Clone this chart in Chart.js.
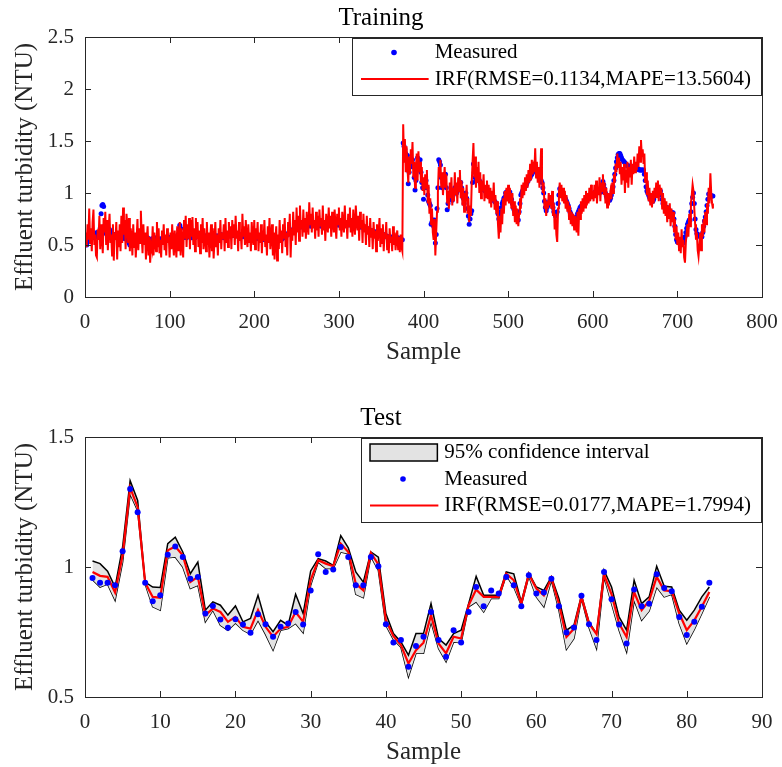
<!DOCTYPE html>
<html>
<head>
<meta charset="utf-8">
<script src="https://cdn.jsdelivr.net/npm/chart.js@4.4.1/dist/chart.umd.min.js"></script>
<style>
  body { margin: 0; background: #fff; overflow: hidden; }
  .wrap { position: absolute; left: 0; width: 782px; }
  #wrapTrain { top: 0; height: 380px; }
  #wrapTest { top: 380px; height: 387px; }
</style>
</head>
<body>
<div class="wrap" id="wrapTrain"><canvas id="trainChart" width="782" height="380"></canvas></div>
<div class="wrap" id="wrapTest"><canvas id="testChart" width="782" height="387"></canvas></div>
<script>
// Training: gemessene Trübung (blaue Punkte), Samples 1..742
const trainMeasured = [
  0.55,0.50,0.53,0.57,0.59,0.58,0.56,0.60,0.61,0.59,0.57,0.58,0.60,0.62,0.60,0.58,0.61,0.66,0.80,0.88,0.89,0.87,0.68,0.63,0.61,
  0.60,0.62,0.64,0.65,0.63,0.61,0.60,0.58,0.59,0.60,0.58,0.57,0.58,0.60,0.59,0.57,0.58,0.60,0.61,0.59,0.58,0.56,0.57,0.58,0.56,
  0.54,0.52,0.50,0.51,0.53,0.55,0.56,0.58,0.57,0.55,0.56,0.57,0.58,0.59,0.58,0.56,0.55,0.57,0.58,0.56,0.55,0.54,0.56,0.57,0.55,
  0.54,0.53,0.55,0.56,0.55,0.54,0.55,0.56,0.57,0.55,0.54,0.53,0.55,0.56,0.55,0.54,0.56,0.57,0.55,0.54,0.55,0.56,0.58,0.57,0.56,
  0.57,0.58,0.57,0.56,0.57,0.58,0.57,0.56,0.58,0.60,0.65,0.69,0.66,0.60,0.58,0.57,0.58,0.59,0.58,0.57,0.58,0.59,0.60,0.59,0.58,
  0.57,0.58,0.59,0.58,0.57,0.58,0.59,0.60,0.59,0.58,0.57,0.58,0.59,0.58,0.57,0.58,0.59,0.58,0.57,0.56,0.57,0.58,0.57,0.56,0.57,
  0.58,0.57,0.56,0.57,0.58,0.59,0.58,0.57,0.58,0.59,0.60,0.59,0.58,0.57,0.58,0.59,0.60,0.61,0.60,0.59,0.60,0.61,0.60,0.59,0.60,
  0.61,0.60,0.59,0.60,0.61,0.60,0.59,0.58,0.59,0.60,0.59,0.58,0.59,0.60,0.59,0.58,0.57,0.58,0.59,0.58,0.57,0.58,0.59,0.58,0.57,
  0.58,0.57,0.56,0.57,0.58,0.57,0.56,0.57,0.58,0.57,0.56,0.55,0.56,0.57,0.56,0.55,0.56,0.57,0.56,0.55,0.56,0.55,0.56,0.57,0.56,
  0.55,0.56,0.55,0.54,0.55,0.56,0.55,0.56,0.57,0.58,0.57,0.58,0.59,0.60,0.61,0.62,0.63,0.64,0.63,0.64,0.65,0.66,0.65,0.66,0.67,
  0.66,0.67,0.68,0.67,0.68,0.69,0.68,0.67,0.68,0.69,0.70,0.69,0.68,0.69,0.70,0.69,0.68,0.69,0.70,0.69,0.70,0.71,0.70,0.69,0.70,
  0.69,0.70,0.69,0.68,0.69,0.70,0.69,0.70,0.69,0.68,0.69,0.70,0.69,0.70,0.71,0.70,0.69,0.70,0.69,0.70,0.69,0.70,0.71,0.70,0.69,
  0.70,0.69,0.70,0.69,0.68,0.69,0.70,0.69,0.70,0.69,0.70,0.71,0.70,0.69,0.70,0.69,0.68,0.69,0.70,0.69,0.70,0.69,0.68,0.69,0.68,
  0.67,0.68,0.69,0.68,0.67,0.66,0.67,0.66,0.65,0.64,0.65,0.64,0.63,0.64,0.63,0.62,0.63,0.62,0.61,0.62,0.61,0.60,0.61,0.60,0.59,
  0.60,0.59,0.60,0.59,0.58,0.59,0.58,0.57,0.58,0.57,0.58,0.57,0.56,0.57,0.56,0.57,0.56,0.55,0.56,0.57,0.56,0.55,0.56,0.55,0.55,
  1.48,1.45,1.42,1.38,1.36,1.36,1.09,1.20,1.25,1.28,1.30,1.32,1.25,1.15,1.03,1.12,1.25,1.34,1.30,1.28,1.32,1.20,1.10,1.05,0.94,
  1.05,1.10,1.12,1.05,0.98,0.92,0.90,0.88,0.70,0.72,0.74,0.68,0.74,0.52,0.60,0.85,1.05,1.32,1.30,1.27,1.15,1.05,1.10,1.15,1.18,
  1.18,1.05,0.84,0.90,0.95,1.00,0.98,0.95,0.93,0.98,1.02,1.05,1.03,1.00,1.02,1.05,1.08,1.10,1.10,1.05,1.00,0.95,0.90,0.95,1.00,
  0.95,0.85,0.78,0.70,0.75,0.80,0.83,1.10,1.28,1.20,1.15,1.12,1.15,1.17,1.17,1.12,1.10,1.08,1.06,1.05,1.03,1.04,1.02,1.01,1.02,
  1.01,1.00,0.99,0.97,0.96,0.95,0.94,0.93,0.92,0.91,0.90,0.85,0.80,0.75,0.78,0.82,0.86,0.90,0.92,0.95,0.96,1.00,1.01,1.00,0.98,
  0.99,1.01,0.98,0.94,0.90,0.86,0.84,0.82,0.80,0.79,0.79,0.74,0.82,0.90,0.98,1.00,1.02,1.04,1.05,1.06,1.07,1.09,1.11,1.13,1.14,
  1.15,1.17,1.18,1.20,1.22,1.24,1.25,1.23,1.20,1.18,1.16,1.14,1.13,1.12,1.10,1.05,1.00,0.92,0.86,0.83,0.86,0.88,0.90,0.92,0.93,
  0.93,0.90,0.86,0.82,0.80,0.78,0.80,0.82,0.90,0.98,1.04,1.03,1.01,0.99,0.98,0.97,0.96,0.94,0.92,0.90,0.88,0.85,0.82,0.80,0.78,
  0.77,0.76,0.76,0.75,0.75,0.77,0.80,0.82,0.84,0.86,0.87,0.88,0.88,0.89,0.90,0.91,0.92,0.93,0.94,0.95,0.96,0.97,0.98,0.98,0.99,
  1.00,1.00,1.01,1.01,1.02,1.02,1.01,1.01,1.01,1.01,1.08,1.11,1.08,1.04,1.00,0.97,0.95,0.94,0.93,0.93,0.95,0.98,1.02,1.06,1.12,
  1.18,1.24,1.30,1.34,1.37,1.38,1.38,1.36,1.34,1.32,1.31,1.30,1.29,1.28,1.27,1.26,1.26,1.26,1.25,1.25,1.24,1.24,1.23,1.23,1.23,
  1.23,1.23,1.23,1.23,1.22,1.22,1.22,1.22,1.22,1.22,1.18,1.12,1.06,1.02,1.00,0.98,0.96,0.94,0.93,0.92,0.92,0.94,0.97,0.99,1.00,
  1.01,1.02,1.02,1.02,1.02,0.98,0.94,0.90,0.88,0.86,0.86,0.86,0.86,0.85,0.84,0.83,0.82,0.81,0.81,0.81,0.75,0.68,0.60,0.55,0.53,
  0.53,0.52,0.52,0.52,0.52,0.52,0.52,0.55,0.58,0.62,0.66,0.70,0.72,0.74,0.74,0.82,0.90,0.96,1.00,0.90,0.75,0.65,0.61,0.60,0.59,
  0.59,0.58,0.58,0.58,0.62,0.68,0.73,0.77,0.82,0.88,0.94,0.99,0.98,0.98,0.97,0.97,0.97
];

// Training: IRF-Vorhersage (rote Linie)
const trainIRF = [
  0.62,0.48,0.70,0.55,0.85,0.52,0.66,0.44,0.72,0.84,0.50,0.60,0.40,0.38,0.65,0.55,0.78,0.46,0.70,0.58,0.42,0.76,0.62,0.82,0.50,
  0.74,0.45,0.66,0.80,0.52,0.60,0.40,0.70,0.35,0.62,0.55,0.72,0.36,0.64,0.48,0.70,0.44,0.78,0.52,0.86,0.60,0.74,0.46,0.80,0.70,
  0.52,0.76,0.44,0.66,0.58,0.40,0.70,0.48,0.62,0.38,0.56,0.75,0.45,0.66,0.52,0.83,0.58,0.42,0.70,0.50,0.62,0.36,0.55,0.68,0.40,
  0.58,0.33,0.50,0.46,0.68,0.40,0.62,0.52,0.44,0.72,0.48,0.66,0.42,0.55,0.38,0.64,0.50,0.70,0.45,0.60,0.40,0.66,0.52,0.58,0.38,
  0.62,0.46,0.70,0.52,0.40,0.64,0.50,0.38,0.68,0.45,0.58,0.72,0.40,0.66,0.52,0.38,0.74,0.56,0.78,0.48,0.70,0.56,0.76,0.46,0.74,
  0.58,0.77,0.50,0.66,0.44,0.76,0.56,0.72,0.48,0.64,0.42,0.70,0.52,0.76,0.46,0.66,0.55,0.44,0.72,0.50,0.62,0.38,0.58,0.70,0.44,
  0.66,0.37,0.54,0.72,0.48,0.60,0.40,0.66,0.52,0.74,0.46,0.62,0.56,0.70,0.44,0.76,0.52,0.64,0.48,0.72,0.56,0.68,0.46,0.74,0.58,
  0.70,0.50,0.78,0.56,0.64,0.44,0.72,0.54,0.62,0.46,0.80,0.58,0.68,0.50,0.74,0.56,0.48,0.70,0.52,0.62,0.44,0.72,0.58,0.50,0.74,
  0.46,0.66,0.56,0.72,0.44,0.62,0.52,0.70,0.42,0.64,0.54,0.74,0.48,0.60,0.40,0.68,0.52,0.76,0.46,0.58,0.70,0.40,0.62,0.36,0.56,
  0.68,0.35,0.60,0.46,0.74,0.52,0.64,0.42,0.70,0.56,0.76,0.48,0.62,0.40,0.72,0.58,0.80,0.38,0.66,0.54,0.82,0.60,0.74,0.50,0.86,
  0.62,0.78,0.54,0.88,0.66,0.74,0.58,0.84,0.62,0.76,0.56,0.82,0.68,0.60,0.91,0.70,0.80,0.62,0.86,0.66,0.74,0.56,0.82,0.64,0.78,
  0.58,0.84,0.68,0.76,0.60,0.88,0.64,0.74,0.54,0.80,0.70,0.62,0.86,0.66,0.78,0.58,0.82,0.72,0.62,0.84,0.68,0.56,0.80,0.70,0.86,
  0.64,0.76,0.58,0.82,0.70,0.62,0.88,0.66,0.74,0.56,0.80,0.68,0.86,0.62,0.76,0.58,0.84,0.70,0.60,0.88,0.72,0.64,0.78,0.54,0.82,
  0.66,0.74,0.52,0.80,0.62,0.70,0.50,0.78,0.60,0.68,0.48,0.76,0.58,0.66,0.46,0.72,0.56,0.64,0.44,0.70,0.54,0.62,0.76,0.48,0.66,
  0.52,0.70,0.44,0.62,0.56,0.72,0.46,0.60,0.42,0.66,0.52,0.58,0.44,0.68,0.50,0.62,0.45,0.56,0.64,0.46,0.58,0.43,0.60,0.48,0.44,
  1.66,1.30,1.52,1.20,1.45,1.25,1.10,1.35,1.18,1.42,1.28,1.49,1.15,1.30,1.05,1.22,1.38,1.12,1.40,1.20,1.30,1.10,1.25,1.02,1.15,
  0.98,1.18,1.05,1.22,0.90,1.08,0.80,0.95,0.70,0.85,0.62,0.55,0.75,0.40,0.62,0.82,1.00,1.25,1.15,1.32,1.05,1.20,0.98,1.12,1.25,
  1.05,1.18,0.90,1.02,0.85,1.10,0.95,1.15,0.88,1.05,0.92,1.20,0.98,1.10,0.90,1.15,1.02,1.22,0.95,1.12,0.88,1.05,0.82,1.00,0.92,
  1.08,0.80,0.95,0.72,0.88,0.78,1.10,1.30,1.48,1.15,1.35,1.05,1.25,1.10,1.30,1.00,1.20,0.95,1.12,1.02,1.18,0.92,1.08,0.96,1.12,
  0.94,1.08,0.90,1.05,0.86,1.02,0.92,1.10,0.84,0.98,0.80,0.92,0.70,0.56,0.78,0.62,0.85,0.70,0.95,0.80,1.02,0.88,1.05,0.92,1.08,
  0.90,1.05,0.95,0.85,1.00,0.78,0.92,0.72,0.88,0.70,0.85,0.68,0.80,0.95,0.85,1.08,0.95,1.10,0.98,1.15,1.02,1.18,1.05,1.22,1.10,
  1.28,1.12,1.32,1.18,1.25,1.20,1.43,1.15,1.30,1.10,1.25,1.05,1.20,1.43,1.15,1.00,1.10,0.85,0.95,0.78,0.92,0.85,1.00,0.88,0.98,
  0.85,1.02,0.78,0.90,0.65,0.80,0.60,0.53,0.85,1.00,1.10,0.95,1.08,0.92,1.05,0.90,1.02,0.85,0.98,0.82,0.92,0.75,0.88,0.70,0.82,
  0.68,0.80,0.65,0.78,0.72,0.62,0.82,0.59,0.85,0.75,0.92,0.80,0.95,0.82,0.98,0.86,1.02,0.88,1.00,0.90,1.05,0.92,1.08,0.94,1.02,
  0.92,1.08,0.95,1.12,0.90,1.06,0.98,1.15,0.92,1.10,1.02,1.18,0.98,1.10,0.90,1.05,0.86,1.00,0.88,0.96,1.02,0.94,1.10,1.00,1.18,
  1.10,1.28,1.20,1.38,1.25,1.34,1.18,1.30,1.08,1.25,1.12,1.28,1.00,1.22,1.10,1.30,1.05,1.25,1.15,1.32,1.08,1.28,1.18,1.35,1.20,
  1.30,1.22,1.38,1.25,1.45,1.30,1.51,1.35,1.42,1.28,1.38,1.10,1.20,0.98,1.12,0.92,1.05,0.88,1.00,0.86,1.02,0.90,1.05,0.95,1.10,
  0.96,1.12,0.92,1.08,0.98,1.05,0.85,1.00,0.80,0.95,0.78,0.92,0.72,0.88,0.75,0.90,0.68,0.85,0.72,0.82,0.62,0.75,0.55,0.68,0.50,
  0.62,0.45,0.58,0.42,0.65,0.48,0.55,0.38,0.33,0.52,0.62,0.70,0.58,0.80,0.68,0.90,0.98,1.08,1.02,0.85,0.70,0.55,0.62,0.45,0.39,
  0.50,0.62,0.45,0.70,0.58,0.75,0.62,0.82,0.70,0.90,0.80,1.05,0.90,1.19,1.00,0.90,0.85
];

// Test: gemessen, IRF, obere und untere 95%-Grenze, Samples 1..83
const testMeasured = [
  0.958,0.939,0.939,0.930,1.061,1.300,1.211,0.939,0.868,0.891,
  1.047,1.079,1.038,0.955,0.962,0.821,0.850,0.798,0.766,0.799,
  0.779,0.747,0.818,0.780,0.732,0.770,0.783,0.827,0.779,0.910,
  1.049,0.981,0.990,1.077,1.038,0.930,0.930,1.038,1.003,0.780,
  0.710,0.719,0.616,0.696,0.732,0.827,0.719,0.655,0.757,0.710,
  0.827,0.923,0.849,0.910,0.898,0.962,0.930,0.849,0.968,0.898,
  0.902,0.955,0.849,0.748,0.767,0.889,0.780,0.719,0.981,0.876,
  0.779,0.706,0.913,0.849,0.859,0.972,0.919,0.907,0.808,0.738,
  0.789,0.847,0.939
];
const testIRF = [
  0.981,0.966,0.962,0.902,1.045,1.305,1.230,0.939,0.885,0.882,
  1.064,1.079,1.045,0.942,0.962,0.815,0.840,0.827,0.789,0.808,
  0.770,0.763,0.834,0.770,0.732,0.763,0.770,0.827,0.789,0.950,
  1.026,1.013,1.003,1.090,1.058,0.936,0.910,1.054,1.010,0.795,
  0.734,0.700,0.629,0.680,0.709,0.815,0.706,0.668,0.732,0.725,
  0.853,0.913,0.885,0.885,0.885,0.974,0.949,0.859,0.972,0.917,
  0.891,0.958,0.859,0.731,0.763,0.885,0.783,0.742,0.971,0.895,
  0.783,0.731,0.904,0.834,0.870,0.962,0.910,0.907,0.821,0.757,
  0.795,0.847,0.904
];
const testUpper = [
  1.023,1.013,0.984,0.923,1.077,1.332,1.256,0.942,0.923,0.921,
  1.090,1.115,1.058,0.974,1.019,0.834,0.866,0.853,0.815,0.850,
  0.789,0.802,0.891,0.789,0.751,0.795,0.776,0.895,0.821,0.985,
  1.032,1.023,1.006,1.121,1.074,0.981,0.942,1.058,1.038,0.821,
  0.744,0.712,0.661,0.744,0.744,0.859,0.725,0.700,0.744,0.757,
  0.859,0.964,0.891,0.891,0.891,0.981,0.974,0.866,0.977,0.923,
  0.910,0.962,0.879,0.757,0.776,0.891,0.789,0.744,0.987,0.923,
  0.808,0.757,0.949,0.859,0.885,1.003,0.926,0.923,0.834,0.795,
  0.834,0.885,0.923
];
const testLower = [
  0.951,0.923,0.934,0.872,1.019,1.281,1.217,0.934,0.847,0.834,
  1.036,1.038,1.000,0.917,0.930,0.789,0.834,0.776,0.757,0.785,
  0.757,0.741,0.795,0.741,0.680,0.757,0.763,0.783,0.747,0.930,
  1.019,0.994,0.994,1.058,1.051,0.895,0.882,1.041,0.987,0.776,
  0.721,0.691,0.578,0.668,0.668,0.789,0.687,0.636,0.712,0.709,
  0.847,0.866,0.827,0.879,0.879,0.968,0.923,0.853,0.964,0.885,
  0.847,0.949,0.834,0.683,0.725,0.879,0.767,0.687,0.962,0.859,
  0.757,0.674,0.872,0.795,0.831,0.923,0.885,0.895,0.783,0.706,
  0.760,0.821,0.885
];

const trainLabel = 'IRF(RMSE=0.1134,MAPE=13.5604)';
const testLabel = 'IRF(RMSE=0.0177,MAPE=1.7994)';

const axisColor = '#262626';
const serif = "'Liberation Serif', 'Times New Roman', serif";

function toPoints(values) {
  return values.map((v, i) => ({ x: i + 1, y: v }));
}

// Rahmen und nach innen zeigende Ticks (Matlab-Stil)
const frameTicks = {
  id: 'frameTicks',
  afterDatasetsDraw(chart) {
    const { ctx, chartArea: a, scales: { x, y } } = chart;
    const len = 6;
    ctx.save();
    ctx.strokeStyle = axisColor;
    ctx.lineWidth = 1;
    ctx.beginPath();
    x.ticks.forEach(t => {
      const px = Math.round(x.getPixelForValue(t.value)) + 0.5;
      ctx.moveTo(px, a.bottom); ctx.lineTo(px, a.bottom - len);
      ctx.moveTo(px, a.top); ctx.lineTo(px, a.top + len);
    });
    y.ticks.forEach(t => {
      const py = Math.round(y.getPixelForValue(t.value)) + 0.5;
      ctx.moveTo(a.left, py); ctx.lineTo(a.left + len, py);
      ctx.moveTo(a.right, py); ctx.lineTo(a.right - len, py);
    });
    ctx.stroke();
    ctx.strokeRect(Math.round(a.left) + 0.5, Math.round(a.top) + 0.5,
      Math.round(a.right - a.left), Math.round(a.bottom - a.top));
    ctx.restore();
  }
};

// Legende mit Rahmen oben rechts im Plotbereich
const boxLegend = {
  id: 'boxLegend',
  afterDraw(chart, args, opts) {
    const { ctx, chartArea: a } = chart;
    const rows = opts.rows || [];
    if (!rows.length) return;
    ctx.save();
    ctx.font = '21px ' + serif;
    const labels = rows.map(r => chart.data.datasets[r.ds].label);
    const textW = Math.max(...labels.map(l => ctx.measureText(l).width));
    const right = Math.round(a.right) - 1;
    const top = Math.round(a.top) + 1;
    const textX = right - 10 - textW;
    const left = Math.round(textX - 83);
    const rowH = 26.5;
    const h = Math.round(rows.length * rowH + 4);
    ctx.fillStyle = '#ffffff';
    ctx.fillRect(left, top, right - left, h);
    ctx.strokeStyle = axisColor;
    ctx.lineWidth = 1;
    ctx.strokeRect(left + 0.5, top + 0.5, right - left, h);
    rows.forEach((r, i) => {
      const ds = chart.data.datasets[r.ds];
      const cy = top + 14.5 + i * rowH;
      if (r.kind === 'patch') {
        ctx.fillStyle = ds.backgroundColor;
        ctx.fillRect(left + 9, cy - 8.5, textX - 7 - (left + 9), 17);
        ctx.strokeStyle = '#000';
        ctx.lineWidth = 1.5;
        ctx.strokeRect(left + 9, cy - 8.5, textX - 7 - (left + 9), 17);
      } else if (r.kind === 'dot') {
        ctx.fillStyle = ds.pointBackgroundColor;
        ctx.beginPath();
        ctx.arc(left + 42, cy, 2.8, 0, Math.PI * 2);
        ctx.fill();
      } else {
        ctx.strokeStyle = ds.borderColor;
        ctx.lineWidth = 2;
        ctx.beginPath();
        ctx.moveTo(left + 9, cy);
        ctx.lineTo(textX - 6, cy);
        ctx.stroke();
      }
      ctx.fillStyle = '#000';
      ctx.textAlign = 'left';
      ctx.textBaseline = 'middle';
      ctx.fillText(ds.label, textX, cy);
    });
    ctx.restore();
  }
};

function axisOptions(min, max, step, title, titlePad, fit) {
  return {
    type: 'linear',
    min: min,
    max: max,
    ticks: {
      stepSize: step,
      autoSkip: false,
      maxRotation: 0,
      color: axisColor,
      font: { family: serif, size: 21 },
      padding: fit.tickPad,
      callback: v => String(Math.round(v * 100) / 100)
    },
    grid: { display: false, drawTicks: false },
    border: { display: false },
    title: {
      display: true,
      text: title,
      color: axisColor,
      font: { family: serif, size: 25 },
      padding: titlePad
    },
    afterFit: fit.fn
  };
}

function baseOptions(titleText, titlePad, xOpts, yOpts, legendRows) {
  return {
    responsive: false,
    animation: false,
    events: [],
    layout: { padding: { left: 0, right: 20, top: 0, bottom: 0 } },
    scales: { x: xOpts, y: yOpts },
    plugins: {
      legend: { display: false },
      tooltip: { enabled: false },
      title: {
        display: true,
        text: titleText,
        color: '#000',
        font: { family: serif, size: 25, weight: 'normal' },
        padding: titlePad
      },
      boxLegend: { rows: legendRows }
    }
  };
}

// x-Achse: feste Höhe, Randabstand nur über layout.padding
function fitX(h) {
  return s => { s.height = h; s.paddingLeft = 0; s.paddingRight = 0; };
}

// Trainingsdiagramm
new Chart(document.getElementById('trainChart'), {
  type: 'line',
  data: {
    datasets: [
      {
        label: trainLabel,
        data: toPoints(trainIRF),
        borderColor: '#ff0000',
        borderWidth: 2,
        pointRadius: 0,
        tension: 0,
        order: 0
      },
      {
        label: 'Measured',
        data: toPoints(trainMeasured),
        showLine: false,
        pointRadius: 2.5,
        pointBorderWidth: 0,
        pointBackgroundColor: '#0000ff',
        borderColor: '#0000ff',
        order: 1
      }
    ]
  },
  options: baseOptions('Training', { top: 3, bottom: 4 },
    axisOptions(0, 800, 100, 'Sample', { top: 0, bottom: 12.6 },
      { tickPad: 13, fn: fitX(83) }),
    axisOptions(0, 2.5, 0.5, 'Effluent turbidity (NTU)', { top: 10, bottom: 0 },
      { tickPad: 11, fn: s => { s.width = 85; } }),
    [{ ds: 1, kind: 'dot' }, { ds: 0, kind: 'line' }]),
  plugins: [frameTicks, boxLegend]
});

// Testdiagramm
new Chart(document.getElementById('testChart'), {
  type: 'line',
  data: {
    datasets: [
      {
        label: '95% confidence interval',
        data: toPoints(testUpper),
        borderColor: '#000000',
        borderWidth: 1.5,
        backgroundColor: '#e3e3e3',
        fill: '+1',
        pointRadius: 0,
        tension: 0,
        order: 3
      },
      {
        label: 'lower bound',
        data: toPoints(testLower),
        borderColor: '#000000',
        borderWidth: 1.5,
        fill: false,
        pointRadius: 0,
        tension: 0,
        order: 3
      },
      {
        label: 'Measured',
        data: toPoints(testMeasured),
        showLine: false,
        pointRadius: 3,
        pointBorderWidth: 0,
        pointBackgroundColor: '#0000ff',
        borderColor: '#0000ff',
        order: 1
      },
      {
        label: testLabel,
        data: toPoints(testIRF),
        borderColor: '#ff0000',
        borderWidth: 2.2,
        pointRadius: 0,
        tension: 0,
        order: 2
      }
    ]
  },
  options: baseOptions('Test', { top: 23.8, bottom: 3.2 },
    axisOptions(0, 90, 10, 'Sample', { top: 0, bottom: 0 },
      { tickPad: 13, fn: fitX(70) }),
    axisOptions(0.5, 1.5, 0.5, 'Effluent turbidity (NTU)', { top: 10, bottom: 0 },
      { tickPad: 11, fn: s => { s.width = 85; } }),
    [{ ds: 0, kind: 'patch' }, { ds: 2, kind: 'dot' }, { ds: 3, kind: 'line' }]),
  plugins: [frameTicks, boxLegend]
});
</script>
</body>
</html>
